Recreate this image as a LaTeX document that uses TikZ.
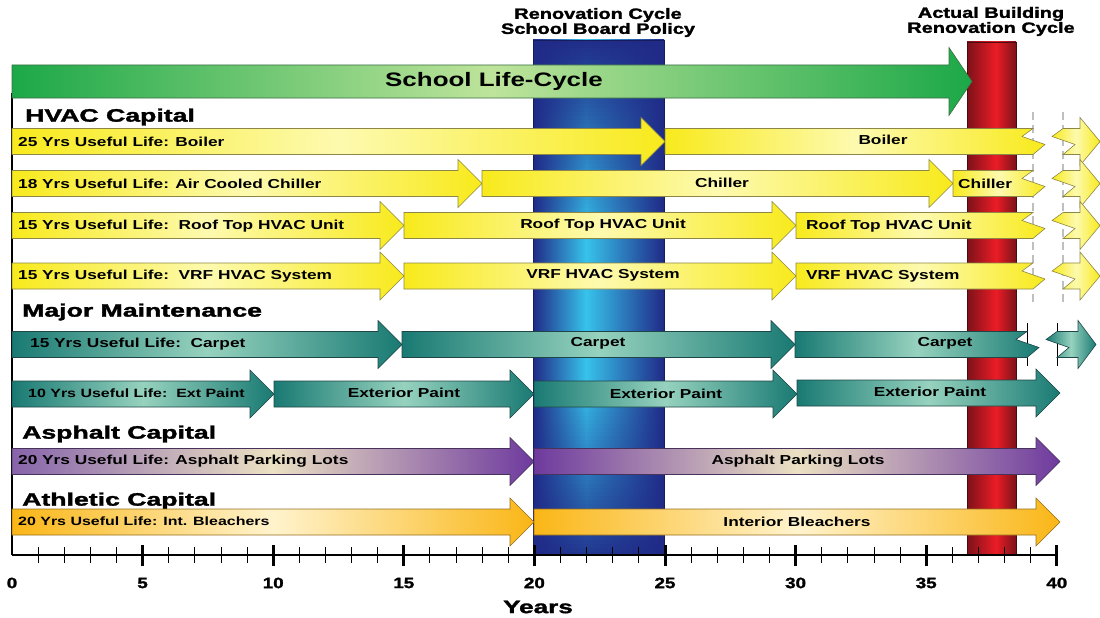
\documentclass[tikz,border=0pt]{standalone}
\usepackage{fontspec}
\usepackage{graphicx}
\setmainfont{Liberation Sans}
\newfontfamily\heavy{Liberation Sans}[BoldFeatures={FakeBold=1.5}]
\newcommand\sx[2][1.33]{\scalebox{#1}[1]{#2}}
\definecolor{ylw}{RGB}{248,234,28}
\definecolor{ylwl}{RGB}{253,250,175}
\definecolor{ylwo}{RGB}{140,135,70}
\definecolor{tl}{RGB}{25,122,115}
\definecolor{tll}{RGB}{150,210,190}
\definecolor{tlo}{RGB}{30,70,70}
\definecolor{purA}{RGB}{135,100,170}
\definecolor{purB}{RGB}{110,58,158}
\definecolor{purl}{RGB}{235,225,195}
\definecolor{puro}{RGB}{70,50,90}
\definecolor{org}{RGB}{250,182,22}
\definecolor{orgl}{RGB}{255,243,205}
\definecolor{orgo}{RGB}{150,110,30}
\definecolor{grn}{RGB}{28,168,72}
\definecolor{grnl}{RGB}{190,228,155}
\definecolor{grno}{RGB}{60,110,70}
\definecolor{navy}{RGB}{32,42,135}
\definecolor{cyn}{RGB}{55,195,235}
\definecolor{dred}{RGB}{125,18,25}
\definecolor{bred}{RGB}{235,28,38}
\newcommand\harr[4]{\path[#1] (#2,#4-13) -- ({#3-24},#4-13) -- ({#3-24},#4-24) -- (#3,#4) -- ({#3-24},#4+24) -- ({#3-24},#4+13) -- (#2,#4+13) -- cycle;}
\newcommand\larr[4]{\path[#1] (#2,#4-13) -- (#3,#4-13) -- ({#3-11},#4-5) -- ({#3+12},#4+3) -- (#3,#4+13) -- (#2,#4+13) -- cycle;}
\newcommand\rarr[5]{\path[#1] (#2,#5-13) -- (#3,#5-13) -- (#3,#5-24) -- (#4,#5) -- (#3,#5+24) -- (#3,#5+13) -- (#2,#5+13) -- ({#2+12},#5+3) -- ({#2-11},#5-5) -- cycle;}
\tikzset{
  yarr/.style={left color=ylw, right color=ylw, middle color=ylwl, draw=ylwo, line width=0.6pt},
  tarr/.style={left color=tl, right color=tl, middle color=tll, draw=tlo, line width=0.6pt},
  parrA/.style={left color=purA, right color=purB, middle color=purl, draw=puro, line width=0.6pt},
  parrB/.style={left color=purB, right color=purB, middle color=purl, draw=puro, line width=0.6pt},
  oarr/.style={left color=org, right color=org, middle color=orgl, draw=orgo, line width=0.6pt},
  garr/.style={left color=grn, right color=grn, middle color=grnl, draw=grno, line width=0.6pt},
  lbl/.style={font=\fontsize{13}{15}\selectfont\bfseries, inner sep=0pt},
  lbls/.style={font=\fontsize{12}{14}\selectfont\bfseries, inner sep=0pt},
  head/.style={font=\heavy\fontsize{18}{20}\selectfont\bfseries, inner sep=0pt, anchor=west},
  ttl/.style={font=\heavy\fontsize{15}{17}\selectfont\bfseries, inner sep=0pt},
  axl/.style={font=\heavy\fontsize{15}{17}\selectfont\bfseries, inner sep=0pt},
}
\begin{document}
\begin{tikzpicture}[x=1pt,y=-1pt]
\useasboundingbox (0,0) rectangle (1100,618);
% blue column
\shade[left color=navy, right color=cyn] (533,40) rectangle (586,555);
\shade[left color=cyn, right color=navy] (586,40) rectangle (664,555);
\foreach \k in {0,...,49}{
  \fill[navy, opacity={0.97*(1-\k/50)}] (533,{40+4*\k}) rectangle (664,{44+4*\k});
}
\foreach \k in {0,...,43}{
  \fill[navy, opacity={0.9*\k/43}] (533,{380+4*\k}) rectangle (664,{384+4*\k});
}
\draw[navy!70!black, line width=0.8pt] (533,40) rectangle (664,555);
% red column
\shade[left color=dred, right color=bred] (967,42) rectangle (996,555);
\shade[left color=bred, right color=dred] (996,42) rectangle (1016,555);
\draw[dred!60!black, line width=0.8pt] (967,42) rectangle (1016,555);
% titles
\node[ttl] (t1a) at (598,15) {\sx{Renovation Cycle}};
\node[ttl] (t1b) at (598,30) {\sx{School Board Policy}};
\node[ttl] (t2a) at (991,14) {\sx{Actual Building}};
\node[ttl] (t2b) at (991,29) {\sx{Renovation Cycle}};
% frame
\draw[line width=1.2pt] (12,93) -- (12,555);
% break lines
\draw[gray!50, line width=1.5pt, dash pattern=on 8pt off 5pt] (1033,112) -- (1033,302);
\draw[gray!50, line width=1.5pt, dash pattern=on 8pt off 5pt] (1063,112) -- (1063,302);
\draw[black, line width=1pt] (1027,323) -- (1027,366);
\draw[black, line width=1pt] (1057,323) -- (1057,366);
% school life cycle
\path[garr] (12,65) -- (949,65) -- (949,47.5) -- (972,81.5) -- (949,115.5) -- (949,98) -- (12,98) -- cycle;
\node[font=\fontsize{19.5}{22}\selectfont\bfseries, inner sep=0pt] (slc) at (494,81) {\sx{School Life-Cycle}};
% HVAC
\node[head] (h1) at (25,117) {\sx[1.48]{HVAC Capital}};
\harr{yarr}{12}{665}{141.5}
\larr{yarr}{665}{1033}{141.5}
\rarr{yarr}{1063}{1080}{1100}{141.5}
\node[lbl, anchor=west] (b1) at (18,141.5) {\sx{25 Yrs Useful Life: Boiler}};
\node[lbl] (b2) at (883,140) {\sx{Boiler}};
\harr{yarr}{12}{482}{183.5}
\harr{yarr}{482}{953}{183.5}
\larr{yarr}{953}{1033}{183.5}
\rarr{yarr}{1063}{1080}{1100}{183.5}
\node[lbl, anchor=west] (c1) at (18,183.5) {\sx{18 Yrs Useful Life: Air Cooled Chiller}};
\node[lbl] (c2) at (722,183) {\sx{Chiller}};
\node[lbl, anchor=west] (c3) at (958,184) {\sx{Chiller}};
\harr{yarr}{12}{404}{225.5}
\harr{yarr}{404}{796}{225.5}
\larr{yarr}{796}{1033}{225.5}
\rarr{yarr}{1063}{1080}{1100}{225.5}
\node[lbl, anchor=west] (r1) at (18,226) {\sx{15 Yrs Useful Life:\ \ Roof Top HVAC Unit}};
\node[lbl] (r2) at (603,225) {\sx{Roof Top HVAC Unit}};
\node[lbl, anchor=west] (r3) at (806,226) {\sx{Roof Top HVAC Unit}};
\harr{yarr}{12}{404}{276}
\harr{yarr}{404}{796}{276}
\larr{yarr}{796}{1033}{276}
\rarr{yarr}{1063}{1080}{1100}{276}
\node[lbl, anchor=west] (v1) at (18,276) {\sx{15 Yrs Useful Life:\ \ VRF HVAC System}};
\node[lbl] (v2) at (603,275) {\sx{VRF HVAC System}};
\node[lbl, anchor=west] (v3) at (806,276) {\sx{VRF HVAC System}};
% major maintenance
\node[head] (h2) at (22,312) {\sx[1.48]{Major Maintenance}};
\harr{tarr}{12}{402}{344.5}
\harr{tarr}{402}{795}{344.5}
\larr{tarr}{795}{1027}{344.5}
\rarr{tarr}{1057}{1078}{1096}{344.5}
\node[lbl, anchor=west] (p1) at (30,344) {\sx{15 Yrs Useful Life:\ \ Carpet}};
\node[lbl] (p2) at (598,343.5) {\sx{Carpet}};
\node[lbl] (p3) at (945,343) {\sx{Carpet}};
\harr{tarr}{12}{274}{394}
\harr{tarr}{274}{534}{394}
\harr{tarr}{534}{797}{394}
\harr{tarr}{797}{1060}{393}
\node[lbls, anchor=west] (e1) at (28,393) {\sx{10 Yrs Useful Life:\ \ Ext Paint}};
\node[lbl] (e2) at (404,393) {\sx{Exterior Paint}};
\node[lbl] (e3) at (666,393.5) {\sx{Exterior Paint}};
\node[lbl] (e4) at (930,392) {\sx{Exterior Paint}};
% asphalt
\node[head] (h3) at (22,434) {\sx[1.48]{Asphalt Capital}};
\harr{parrA}{12}{534}{461.5}
\harr{parrB}{534}{1060}{461.5}
\node[lbl, anchor=west] (a1) at (18,461.5) {\sx{20 Yrs Useful Life: Asphalt Parking Lots}};
\node[lbl] (a2) at (798,461) {\sx{Asphalt Parking Lots}};
% athletic
\node[head] (h4) at (22,501) {\sx[1.48]{Athletic Capital}};
\harr{oarr}{12}{534}{522}
\harr{oarr}{534}{1060}{522}
\node[lbls, anchor=west] (l1) at (18,521.5) {\sx{20 Yrs Useful Life: Int. Bleachers}};
\node[lbl] (l2) at (797,521.5) {\sx{Interior Bleachers}};
% axis
\draw[line width=1.3pt] (12,555) -- (1057,555);
\foreach \i in {1,...,39}{
  \draw[line width=0.9pt] ({12+26.12*\i},547) -- ({12+26.12*\i},563);
}
\foreach \i in {5,10,...,40}{
  \draw[line width=3pt] ({12+26.12*\i},545) -- ({12+26.12*\i},566);
}
\foreach \v in {0,5,...,40}{
  \node[axl] (ax\v) at ({12+26.12*\v},583) {\sx[1.25]{\v}};
}
\node[font=\heavy\fontsize{18}{20}\selectfont\bfseries, inner sep=0pt] (yrs) at (538,607) {\sx[1.45]{Years}};
\end{tikzpicture}
\end{document}
